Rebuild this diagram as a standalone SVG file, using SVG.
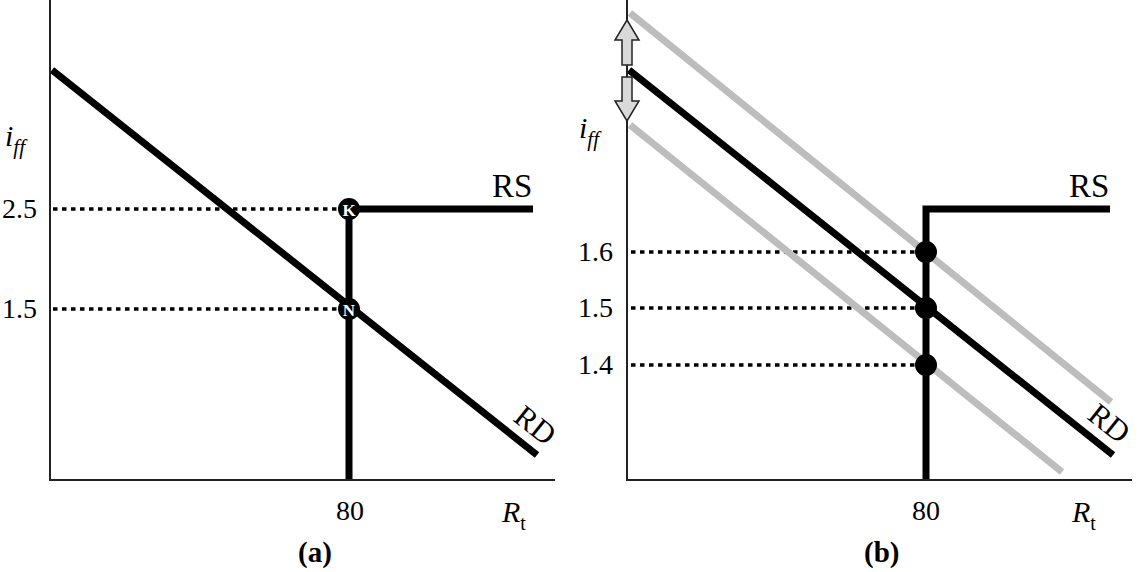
<svg xmlns="http://www.w3.org/2000/svg" width="1138" height="572" viewBox="0 0 1138 572">
<style>
.axis{stroke:#222;stroke-width:2;fill:none}
.thick{stroke:#000;stroke-width:7;fill:none}
.gray{stroke:#bdbdbd;stroke-width:7;fill:none}
.dot{stroke:#000;stroke-width:3.5;stroke-dasharray:4.5 4.5;fill:none}
.t{font-family:"Liberation Serif",serif;fill:#000}
.num{font-size:28px}
.lab{font-size:33px}
.rd{font-size:31px}
.cap{font-size:29px;font-weight:bold}
.arr{fill:#d9d9d9;stroke:#222;stroke-width:1.5}
</style>
<rect width="1138" height="572" fill="#fff"/>
<g id="panel-a">
  <g id="connectors-a">
    <line class="dot" x1="53" y1="209" x2="343" y2="209"/>
    <line class="dot" x1="53" y1="309" x2="343" y2="309"/>
    <line class="thick" x1="52" y1="70" x2="537" y2="455"/>
    <polyline class="thick" points="349,480 349,209 533,209"/>
    <line class="axis" x1="50" y1="0" x2="50" y2="481"/>
    <line class="axis" x1="49" y1="480" x2="555" y2="480"/>
  </g>
  <g id="point-K"><circle cx="349" cy="209" r="11" fill="#000"/><text class="t" x="349" y="215.5" font-size="17" font-weight="bold" text-anchor="middle" style="fill:#fff">K</text></g>
  <g id="point-N"><circle cx="349" cy="309" r="11" fill="#000"/><text class="t" x="349" y="315.5" font-size="17" font-weight="bold" text-anchor="middle" style="fill:#fff">N</text></g>
  <text class="t" x="5" y="146" font-size="30" font-style="italic">i<tspan font-size="21" dy="8">ff</tspan></text>
  <text class="t num" x="2" y="218">2.5</text>
  <text class="t num" x="2" y="318">1.5</text>
  <text class="t lab" x="492" y="197">RS</text>
  <text class="t rd" transform="translate(512,420) rotate(38.5)">RD</text>
  <text class="t num" x="350" y="520" text-anchor="middle">80</text>
  <text class="t" x="502" y="522" font-size="30" font-style="italic">R<tspan font-size="20" font-style="normal" dy="8">t</tspan></text>
  <text class="t cap" x="298" y="562">(a)</text>
</g>
<g id="panel-b">
  <g id="connectors-b">
    <line class="dot" x1="631" y1="252" x2="920" y2="252"/>
    <line class="dot" x1="631" y1="308" x2="920" y2="308"/>
    <line class="dot" x1="631" y1="365" x2="920" y2="365"/>
    <line class="gray" x1="630" y1="13" x2="1111" y2="402"/>
    <line class="gray" x1="630" y1="125" x2="1062" y2="472"/>
    <line class="thick" x1="629" y1="70" x2="1113" y2="455"/>
    <polyline class="thick" points="926,480 926,209 1110,209"/>
    <line class="axis" x1="627" y1="0" x2="627" y2="481"/>
    <line class="axis" x1="626" y1="480" x2="1132" y2="480"/>
  </g>
  <g id="arrow-up"><polygon class="arr" points="627,20 639,40 632,40 632,65 622,65 622,40 615,40"/></g>
  <g id="arrow-down"><polygon class="arr" points="622,77 632,77 632,101 639,101 627,121 615,101 622,101"/></g>
  <g id="point-16"><circle cx="926" cy="252" r="11" fill="#000"/></g>
  <g id="point-15"><circle cx="926" cy="308" r="11" fill="#000"/></g>
  <g id="point-14"><circle cx="926" cy="365" r="11" fill="#000"/></g>
  <text class="t" x="579" y="138" font-size="30" font-style="italic">i<tspan font-size="21" dy="8">ff</tspan></text>
  <text class="t num" x="578" y="261">1.6</text>
  <text class="t num" x="578" y="317">1.5</text>
  <text class="t num" x="578" y="374">1.4</text>
  <text class="t lab" x="1069" y="197">RS</text>
  <text class="t rd" transform="translate(1086,418) rotate(38.5)">RD</text>
  <text class="t num" x="926" y="520" text-anchor="middle">80</text>
  <text class="t" x="1072" y="522" font-size="30" font-style="italic">R<tspan font-size="20" font-style="normal" dy="8">t</tspan></text>
  <text class="t cap" x="864" y="562">(b)</text>
</g>
</svg>
